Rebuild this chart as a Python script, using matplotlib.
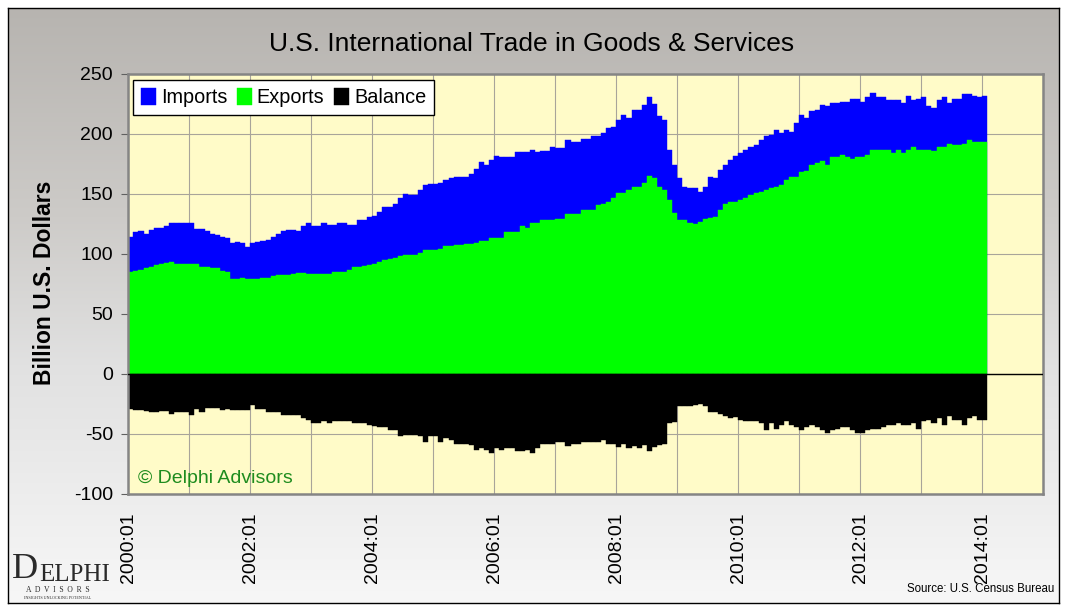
import numpy as np
import matplotlib
matplotlib.use("Agg")
import matplotlib.pyplot as plt
from matplotlib.colors import LinearSegmentedColormap

plt.rcParams['font.family'] = ['Liberation Sans', 'DejaVu Sans']
plt.rcParams['axes.unicode_minus'] = False

# monthly values, 2000:01 .. 2014:01, billion U.S. dollars
imports = [
    114, 118, 119, 117, 120, 122, 122, 123, 126, 125.5, 125.5, 125.5,
    125.5, 121, 121, 119, 117, 116, 114, 113.5, 109, 110, 109, 106,
    109, 110, 111, 112, 114, 117, 119, 120, 120, 119, 123, 125.5,
    123, 123, 126, 124, 124, 125.5, 125.5, 124, 124, 128, 128.5, 131,
    132, 135, 139, 139.5, 142, 147, 150, 149, 149, 153, 157.5, 158,
    158, 159.5, 162, 163, 164, 164, 164.5, 167, 171, 177, 174, 178,
    182, 181, 181, 181, 185, 185, 185, 187, 185, 186, 186, 189,
    188, 188, 195, 193.5, 193.5, 196, 196, 198, 198, 201, 205, 206,
    212, 216, 213, 220, 220, 224, 231, 225, 215, 212, 187, 174,
    163, 156, 155, 155, 152, 156, 164, 163, 170, 174, 178, 182,
    184, 187, 189, 191, 195, 198, 199, 203, 201, 203, 202, 209,
    216, 213, 219, 220, 224, 223, 226, 226, 227, 227, 229, 229.5,
    227, 231, 234, 230.5, 230.5, 228, 228, 228, 226, 231.5, 228, 229,
    230.5, 223, 221.5, 228, 230.5, 225.5, 229, 229, 233, 233, 231.5, 231,
    232,
]
exports = [
    85, 85.5, 87, 88, 89, 91, 91.5, 92.5, 93, 92, 92, 92,
    92, 92, 89.5, 89, 88, 88, 86, 85, 79.5, 79.5, 80, 79,
    79, 79.5, 80, 80, 82, 82.5, 82.5, 82.5, 83.5, 84, 84, 83.5,
    83.5, 83, 83, 83, 85, 85, 85, 86.5, 89, 89.5, 90, 91,
    91.5, 93.5, 95, 95.5, 96.5, 98, 99, 99, 99, 100.5, 103, 103,
    103, 104, 106.5, 106.5, 107.5, 107.5, 108, 108.5, 109.5, 110.5, 110.5, 113,
    113, 113.5, 118.5, 118.5, 118.5, 123, 121.5, 125.5, 125.5, 128, 128, 128,
    129.5, 129, 133, 133.5, 133.5, 136.5, 137, 137, 141, 142, 143.5, 147,
    150.5, 150.5, 153, 156, 156, 159, 165, 163, 156, 153, 145, 134,
    128, 128, 125.5, 125, 127, 129, 130, 130.5, 136.5, 141.5, 143, 143.5,
    145, 147, 149, 150.5, 152, 153, 155, 156, 157.5, 161.5, 164, 164.5,
    168.5, 169.5, 174, 176, 177.5, 174, 181, 181, 182.5, 181, 179, 181,
    181, 182.5, 186.5, 186.5, 186.5, 186.5, 184.5, 187, 184.5, 187, 189, 187,
    187, 186.5, 186, 189, 189, 191.5, 191, 191, 192, 195, 193, 193.5,
    193.5,
]
balance = [
    -29.5, -30, -30, -30.5, -31.5, -31.5, -30.5, -30.5, -33, -32, -32, -32,
    -34, -29.5, -32, -28.5, -28.5, -28.5, -30, -29.5, -30, -30, -30, -30,
    -26, -29.5, -29.5, -32, -32, -32, -34, -34, -34, -34.5, -37, -38.5,
    -41, -41, -39.5, -41, -39.5, -39.5, -39.5, -39.5, -40.5, -40.5, -41, -42.5,
    -43.5, -44.5, -44.5, -46.5, -46.5, -52, -51, -51, -51, -52, -56.5, -52,
    -52, -56.5, -53.5, -55, -58, -58, -58, -59, -63, -62, -63, -65.5,
    -62, -63, -62, -62, -64.5, -64.5, -63, -65.5, -62, -58, -58, -58,
    -56.5, -57, -60, -58, -58, -56.5, -56.5, -56.5, -56.5, -55, -58, -58,
    -60.5, -58, -62, -60, -62, -59, -64, -60.5, -59, -58, -41, -40,
    -27, -27, -27, -26, -25, -26.5, -31.5, -32, -33.5, -35, -37, -36,
    -38.5, -39.5, -39, -39.5, -40.5, -46.5, -40.5, -45.5, -42.5, -39.5, -42.5, -44,
    -46.5, -44, -42.5, -44, -46.5, -49.5, -46.5, -45.5, -44, -44.5, -47, -49.5,
    -49.5, -46.5, -45.5, -46, -44, -42.5, -42.5, -41, -42.5, -42.5, -41, -45.5,
    -39.5, -38.5, -41, -37, -42.5, -35, -38.5, -38.5, -42.5, -37, -35, -38.5,
    -38.5,
]
tick_labels = ['2000:01', '', '2002:01', '', '2004:01', '', '2006:01', '',
               '2008:01', '', '2010:01', '', '2012:01', '', '2014:01', '']

W, H = 1068, 611
fig = plt.figure(figsize=(W / 100, H / 100), dpi=100)
fig.patch.set_facecolor('white')

# grey gradient panel behind everything
bg = fig.add_axes([8 / W, 1 - 603 / H, 1051 / W, 595 / H])
cmap = LinearSegmentedColormap.from_list(
    'panel', [(0, '#b7b4b0'), (0.35, '#cdcbc8'), (0.6, '#e1e1e1'), (1, '#f7f7f7')])
bg.imshow(np.linspace(0, 1, 256).reshape(-1, 1), aspect='auto', cmap=cmap,
          extent=[0, 1, 0, 1])
bg.set_xticks([])
bg.set_yticks([])
for s in bg.spines.values():
    s.set_color('black')
    s.set_linewidth(1)

ax = fig.add_axes([128.3 / W, 1 - 494 / H, 915 / W, 420 / H])
ax.set_facecolor('#fffbc8')
x = np.arange(len(imports))
ax.bar(x, imports, width=1.0, align='edge', color='#0000ff', edgecolor='#0000ff',
       linewidth=0.3, label='Imports', zorder=2)
ax.bar(x, exports, width=1.0, align='edge', color='#00ff00', edgecolor='#00ff00',
       linewidth=0.3, label='Exports', zorder=2)
ax.bar(x, balance, width=1.0, align='edge', color='black', edgecolor='black',
       linewidth=0.3, label='Balance', zorder=2)
ax.axhline(0, color='black', linewidth=1, zorder=3)

ax.set_xlim(0, 180)
ax.set_ylim(-100, 250)
ax.set_yticks(range(-100, 251, 50))
ax.set_xticks(range(0, 181, 12))
ax.set_xticklabels(tick_labels, rotation=90, fontsize=14, va='top')
ax.tick_params(axis='x', length=0, pad=13)
ax.tick_params(axis='y', length=5, pad=6, labelsize=14, color='#606060')
ax.grid(True, color='#a8a49a', linewidth=0.8, zorder=1)
ax.set_axisbelow(True)
for s in ax.spines.values():
    s.set_color('#858585')
    s.set_linewidth(1.8)

leg = ax.legend(loc='upper left', bbox_to_anchor=(0.005, 0.985), ncol=3,
                fontsize=14.3, frameon=True, fancybox=False, edgecolor='black',
                framealpha=1, handlelength=0.75, handleheight=0.9,
                handletextpad=0.25, columnspacing=0.5, borderpad=0.4,
                borderaxespad=0)
leg.get_frame().set_linewidth(1)

ax.text(0.011, 0.038, '\u00a9 Delphi Advisors', transform=ax.transAxes,
        fontsize=14, color='#1e8c1e', va='center', ha='left')

fig.text(532 / W, 1 - 44 / H, 'U.S. International Trade in Goods & Services',
         ha='center', va='center', fontsize=19)
fig.text(45 / W, 1 - 283 / H, 'Billion U.S. Dollars', rotation=90,
         ha='center', va='center', fontsize=16.5, fontweight='bold')
fig.text(1054 / W, 1 - 589 / H, 'Source: U.S. Census Bureau', ha='right',
         va='center', fontsize=8.3)

# logo
fig.text(12 / W, 1 - 586 / H, 'D', family='Liberation Serif', fontsize=26,
         color='#2a2a2a', va='bottom')
fig.text(39 / W, 1 - 586 / H, 'ELPHI', family='Liberation Serif', fontsize=18,
         color='#2a2a2a', va='bottom')
fig.text(58 / W, 1 - 590 / H, 'A  D  V  I  S  O  R  S', family='Liberation Serif',
         fontsize=5.5, color='#2a2a2a', ha='center', va='center')
fig.text(58 / W, 1 - 598 / H, 'INSIGHTS UNLOCKING POTENTIAL', family='Liberation Serif',
         fontsize=3, color='#2a2a2a', ha='center', va='center')

fig.savefig('out.png', dpi=100)
